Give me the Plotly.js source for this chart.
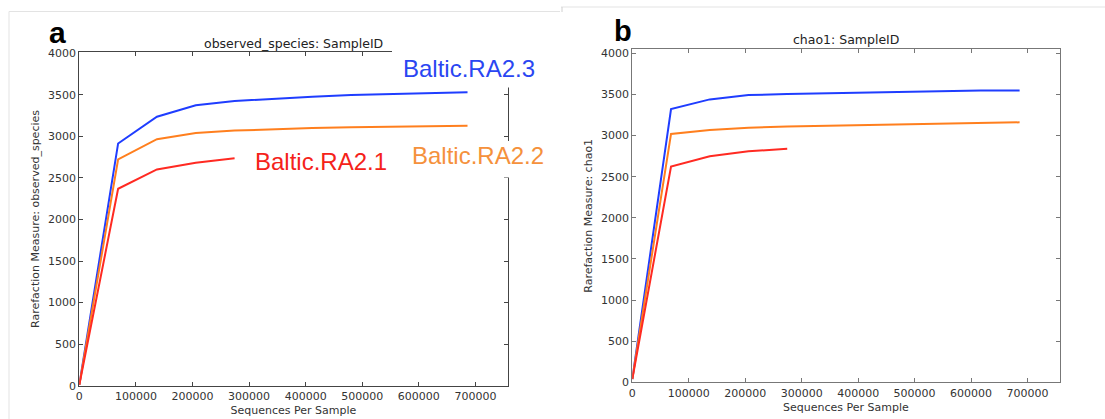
<!DOCTYPE html>
<html>
<head>
<meta charset="utf-8">
<script src="https://cdn.plot.ly/plotly-3.0.1.min.js"></script>
<style>html,body{margin:0;padding:0;background:#fff;}#chart{width:1105px;height:419px;}</style>
</head>
<body>
<div id="chart"></div>
<script>
// ---- data ----
const depths = [10, 68600, 137200, 205800, 274400, 343000, 411600, 480200, 548800, 617400, 686000];
const sampleNames = ["Baltic.RA2.3", "Baltic.RA2.2", "Baltic.RA2.1"];
const observedRA23 = [10, 2915, 3237, 3375, 3425, 3455, 3478, 3498, 3510, 3520, 3530];
const observedRA22 = [10, 2724, 2967, 3042, 3070, 3088, 3100, 3110, 3117, 3123, 3129];
const observedRA21 = [10, 2370, 2602, 2683, 2736];
const chao1RA23 = [40, 3323, 3440, 3492, 3505, 3515, 3525, 3535, 3540, 3548, 3548];
const chao1RA22 = [40, 3020, 3068, 3095, 3109, 3118, 3128, 3135, 3142, 3158, 3161];
const chao1RA21 = [40, 2624, 2748, 2808, 2840];
const xTicks = [0, 100000, 200000, 300000, 400000, 500000, 600000, 700000];
const yTicks = [0, 500, 1000, 1500, 2000, 2500, 3000, 3500, 4000];

// ---- styling ----
const W = 1105, H = 419;
const px = x => x / W;
const py = y => 1 - y / H;
const colBlue = '#1f3dff', colOrange = '#ff7f1e', colRed = '#ff2a22';
const txtBlue = '#2a46f2', txtOrange = '#f5913c', txtRed = '#f5221a';
const tickFont = {family: 'DejaVu Sans', size: 11, color: '#333'};
const titleFont = {family: 'DejaVu Sans', size: 11, color: '#333'};

function line(x, y, color, xa, ya) {
  return {x: x, y: y, type: 'scatter', mode: 'lines', xaxis: xa, yaxis: ya,
          line: {color: color, width: 2}, hoverinfo: 'skip', showlegend: false};
}

const traces = [
  line(depths, observedRA23, colBlue, 'x', 'y'),
  line(depths, observedRA22, colOrange, 'x', 'y'),
  line(depths.slice(0, observedRA21.length), observedRA21, colRed, 'x', 'y'),
  line(depths, chao1RA23, colBlue, 'x2', 'y2'),
  line(depths, chao1RA22, colOrange, 'x2', 'y2'),
  line(depths.slice(0, chao1RA21.length), chao1RA21, colRed, 'x2', 'y2')
];

function xax(domain, lc, anchor) {
  return {domain: domain, anchor: anchor, range: [0, 757000], tickvals: xTicks, tickformat: 'd',
          ticks: 'inside', ticklen: 4, tickcolor: lc, mirror: 'allticks', showline: true,
          linecolor: lc, linewidth: 1, showgrid: false, zeroline: false, tickfont: tickFont,
          title: {text: 'Sequences Per Sample', font: titleFont, standoff: 4}, automargin: false};
}
function yax(domain, range, lc, anchor, ttl) {
  return {domain: domain, anchor: anchor, range: range, tickvals: yTicks, tickformat: 'd',
          ticks: 'inside', ticklen: 4, tickcolor: lc, mirror: 'allticks', showline: true,
          linecolor: lc, linewidth: 1, showgrid: false, zeroline: false, tickfont: tickFont,
          title: {text: ttl, font: titleFont, standoff: 6}, automargin: false};
}

const layout = {
  width: W, height: H, margin: {l: 0, r: 0, t: 0, b: 0},
  paper_bgcolor: '#fff', plot_bgcolor: '#fff', showlegend: false,
  xaxis: xax([px(79.3), px(507.7)], '#444', 'y'),
  yaxis: yax([py(385.7), py(52.3)], [0, 4012], '#444', 'x', 'Rarefaction Measure: observed_species'),
  xaxis2: xax([px(632.3), px(1059.7)], '#777', 'y2'),
  yaxis2: yax([py(382.3), py(49.3)], [0, 4049], '#777', 'x2', 'Rarefaction Measure: chao1'),
  shapes: [
    // white patches behind labels in panel a (hide spine parts)
    {type: 'rect', xref: 'paper', yref: 'paper', x0: px(392), x1: px(516), y0: py(87.5), y1: py(45),
     fillcolor: '#fff', line: {width: 0}, layer: 'above'},
    {type: 'rect', xref: 'paper', yref: 'paper', x0: px(498), x1: px(516), y0: py(177.5), y1: py(141),
     fillcolor: '#fff', line: {width: 0}, layer: 'above'},
    // screenshot frame lines
    {type: 'line', xref: 'paper', yref: 'paper', x0: px(9), x1: px(9), y0: py(11.5), y1: 0,
     line: {color: '#e3e3e3', width: 1}},
    {type: 'line', xref: 'paper', yref: 'paper', x0: px(9), x1: px(560), y0: py(11.5), y1: py(11.5),
     line: {color: '#e3e3e3', width: 1}},
    {type: 'line', xref: 'paper', yref: 'paper', x0: px(561), x1: px(1105), y0: py(7), y1: py(7),
     line: {color: '#e3e3e3', width: 1}},
    {type: 'line', xref: 'paper', yref: 'paper', x0: px(562), x1: px(562), y0: py(7), y1: py(12),
     line: {color: '#d0d0d0', width: 1}}
  ],
  annotations: [
    {text: 'a', xref: 'paper', yref: 'paper', x: px(57), y: py(33), xanchor: 'center', yanchor: 'middle',
     showarrow: false, font: {family: 'Liberation Sans', size: 30, color: '#000', weight: 'bold'}},
    {text: 'b', xref: 'paper', yref: 'paper', x: px(623), y: py(31), xanchor: 'center', yanchor: 'middle',
     showarrow: false, font: {family: 'Liberation Sans', size: 29, color: '#000', weight: 'bold'}},
    {text: 'observed_species: SampleID', xref: 'paper', yref: 'paper', x: px(293), y: py(44),
     xanchor: 'center', yanchor: 'middle', showarrow: false,
     font: {family: 'DejaVu Sans', size: 12.5, color: '#222'}},
    {text: 'chao1: SampleID', xref: 'paper', yref: 'paper', x: px(846), y: py(40),
     xanchor: 'center', yanchor: 'middle', showarrow: false,
     font: {family: 'DejaVu Sans', size: 12.5, color: '#222'}},
    {text: sampleNames[0], xref: 'paper', yref: 'paper', x: px(469), y: py(68),
     xanchor: 'center', yanchor: 'middle', showarrow: false,
     font: {family: 'Liberation Sans', size: 24, color: txtBlue}},
    {text: sampleNames[1], xref: 'paper', yref: 'paper', x: px(478), y: py(156),
     xanchor: 'center', yanchor: 'middle', showarrow: false,
     font: {family: 'Liberation Sans', size: 24, color: txtOrange}},
    {text: sampleNames[2], xref: 'paper', yref: 'paper', x: px(321), y: py(161),
     xanchor: 'center', yanchor: 'middle', showarrow: false,
     font: {family: 'Liberation Sans', size: 24, color: txtRed}}
  ]
};

Plotly.newPlot('chart', traces, layout, {displayModeBar: false, staticPlot: true});
</script>
</body>
</html>
